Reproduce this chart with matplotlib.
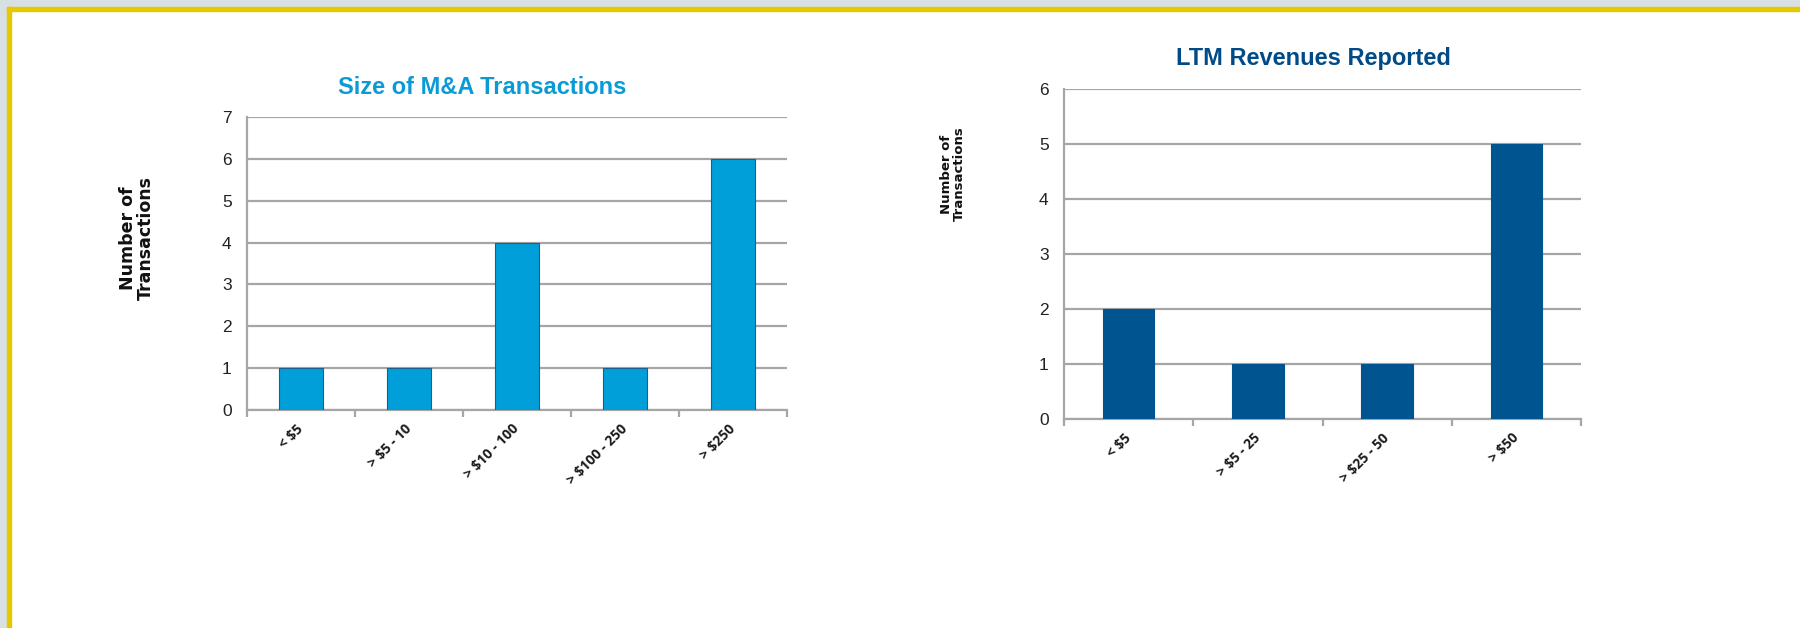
import matplotlib.pyplot as plt
from matplotlib.patches import Rectangle

# data
size_cats = ['< $5', '> $5 - 10', '> $10 - 100', '> $100 - 250', '> $250']
size_counts = [1, 1, 4, 1, 6]

ltm_cats = ['< $5', '> $5 - 25', '> $25 - 50', '> $50']
ltm_counts = [2, 1, 1, 5]

W, H = 1800, 628
fig = plt.figure(figsize=(W / 100, H / 100), dpi=100, facecolor='white')

# page frame: grey band + yellow rule on top and left
grey = '#D9E0E3'
yellow = '#E5C800'
fig.patches.append(Rectangle((0, 1 - 7 / H), 1, 7 / H, transform=fig.transFigure, color=grey, zorder=0))
fig.patches.append(Rectangle((0, 0), 7 / W, 1, transform=fig.transFigure, color=grey, zorder=0))
fig.patches.append(Rectangle((7 / W, 1 - 11 / H), 1, 4 / H, transform=fig.transFigure, color=yellow, zorder=1))
fig.patches.append(Rectangle((7 / W, 0), 4 / W, 1 - 7 / H, transform=fig.transFigure, color=yellow, zorder=1))

gridc = '#A6A6A6'


def bar_panel(rect, cats, vals, ymax, color, edge, title, tcolor, title_xy, ylab_xy, ylab_size):
    ax = fig.add_axes(rect)
    n = len(cats)
    x = list(range(n))
    ax.bar(x, vals, 0.4, color=color, edgecolor=edge, linewidth=0.8, zorder=3)
    ax.set_xlim(-0.5, n - 0.5)
    ax.set_ylim(0, ymax)
    ax.set_yticks(range(ymax + 1))
    ax.yaxis.grid(True, color=gridc, linewidth=1.6, zorder=0)
    for s in ['top', 'right']:
        ax.spines[s].set_visible(False)
    for s in ['left', 'bottom']:
        ax.spines[s].set_color(gridc)
        ax.spines[s].set_linewidth(1.6)
    ax.tick_params(axis='y', length=0, pad=11, labelsize=12.5, labelcolor='#222222')
    ax.set_xticks(x)
    ax.set_xticks([i - 0.5 for i in range(n + 1)], minor=True)
    ax.tick_params(axis='x', which='major', length=0, pad=12)
    ax.tick_params(axis='x', which='minor', length=5, width=1.6, color=gridc)
    ax.set_xticklabels(cats, rotation=45, ha='right', va='center', rotation_mode='anchor',
                       family='Open Sans', weight='bold', fontsize=10, color='#1a1a1a')
    for lab in ax.get_yticklabels():
        lab.set_family('Liberation Sans')
    fig.text(title_xy[0], title_xy[1], title, ha='center', va='center',
             family='Liberation Sans', weight='bold', fontsize=17, color=tcolor)
    fig.text(ylab_xy[0], ylab_xy[1], 'Number of\nTransactions', rotation=90, ha='center', va='center',
             weight='bold', fontsize=ylab_size, color='#111111', linespacing=1.0)
    return ax


bar_panel([247 / W, 1 - 410 / H, 540 / W, 293 / H], size_cats, size_counts, 7,
          '#009FDA', '#1B5E8C', 'Size of M&A Transactions', '#0A9BD7',
          (482 / W, 1 - 87 / H), (137 / W, 1 - 238 / H), 12.5)

bar_panel([1064 / W, 1 - 419 / H, 517 / W, 330 / H], ltm_cats, ltm_counts, 6,
          '#00548F', '#00548F', 'LTM Revenues Reported', '#004B87',
          (1313 / W, 1 - 58 / H), (953 / W, 1 - 174 / H), 9.5)

fig.savefig('out.png', dpi=100, facecolor='white')
